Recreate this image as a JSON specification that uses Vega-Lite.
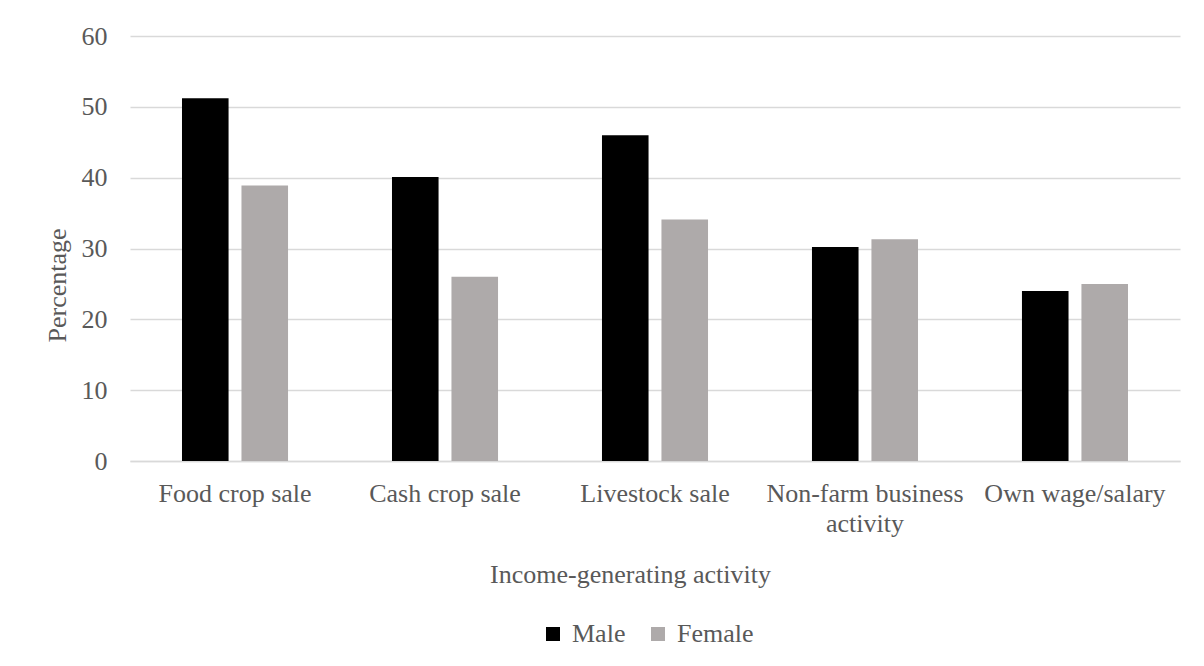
{
  "$schema": "https://vega.github.io/schema/vega-lite/v6.json",
  "width": 1050,
  "height": 425,
  "autosize": "none",
  "padding": {"left": 130, "top": 36, "right": 24, "bottom": 205},
  "background": "white",
  "data": {
    "values": [
      {"activity": "Food crop sale", "sex": "Male", "pct": 51.2},
      {"activity": "Food crop sale", "sex": "Female", "pct": 38.9},
      {"activity": "Cash crop sale", "sex": "Male", "pct": 40.1},
      {"activity": "Cash crop sale", "sex": "Female", "pct": 26.0},
      {"activity": "Livestock sale", "sex": "Male", "pct": 46.0},
      {"activity": "Livestock sale", "sex": "Female", "pct": 34.1},
      {"activity": "Non-farm business activity", "sex": "Male", "pct": 30.2},
      {"activity": "Non-farm business activity", "sex": "Female", "pct": 31.3},
      {"activity": "Own wage/salary", "sex": "Male", "pct": 24.0},
      {"activity": "Own wage/salary", "sex": "Female", "pct": 25.0}
    ]
  },
  "mark": {"type": "bar"},
  "encoding": {
    "x": {
      "field": "activity",
      "type": "nominal",
      "sort": null,
      "scale": {"paddingInner": 0.495, "paddingOuter": 0.2476},
      "axis": {
        "title": "Income-generating activity",
        "titleX": 500,
        "titleY": 121,
        "titleBaseline": "alphabetic",
        "labelAngle": 0,
        "labelBaseline": "top",
        "labelPadding": 19,
        "labelLineHeight": 30,
        "labelLimit": 0,
        "labelFont": "Liberation Serif",
        "labelFontSize": 26,
        "labelColor": "#595959",
        "labelExpr": "datum.label == 'Non-farm business activity' ? ['Non-farm business', 'activity'] : datum.label",
        "ticks": false,
        "domain": true,
        "domainColor": "#D9D9D9",
        "domainWidth": 1.5,
        "grid": false
      }
    },
    "xOffset": {
      "field": "sex",
      "type": "nominal",
      "sort": ["Male", "Female"],
      "scale": {"paddingInner": 0.217, "paddingOuter": 0}
    },
    "y": {
      "field": "pct",
      "type": "quantitative",
      "scale": {"domain": [0, 60], "nice": false},
      "axis": {
        "title": "Percentage",
        "titleX": -65,
        "titleY": 249,
        "titleAngle": -90,
        "titleAlign": "center",
        "titleBaseline": "alphabetic",
        "values": [0, 10, 20, 30, 40, 50, 60],
        "labelPadding": 23,
        "labelFont": "Liberation Serif",
        "labelFontSize": 26,
        "labelColor": "#595959",
        "ticks": false,
        "domain": false,
        "grid": true,
        "gridColor": "#D9D9D9",
        "gridWidth": 1.3
      }
    },
    "color": {
      "field": "sex",
      "type": "nominal",
      "sort": ["Male", "Female"],
      "scale": {"domain": ["Male", "Female"], "range": ["#000000", "#AEAAAA"]},
      "legend": {
        "title": null,
        "orient": "none",
        "direction": "horizontal",
        "legendX": 410,
        "legendY": 585,
        "padding": 0,
        "symbolType": "square",
        "symbolSize": 196,
        "symbolStrokeWidth": 0,
        "labelOffset": 6,
        "columnPadding": 19,
        "labelBaseline": "middle",
        "labelFont": "Liberation Serif",
        "labelFontSize": 26,
        "labelColor": "#595959"
      }
    }
  },
  "config": {
    "font": "Liberation Serif",
    "view": {"stroke": null},
    "axis": {
      "titleFont": "Liberation Serif",
      "titleFontSize": 26,
      "titleColor": "#595959",
      "titleFontWeight": "normal"
    }
  }
}
